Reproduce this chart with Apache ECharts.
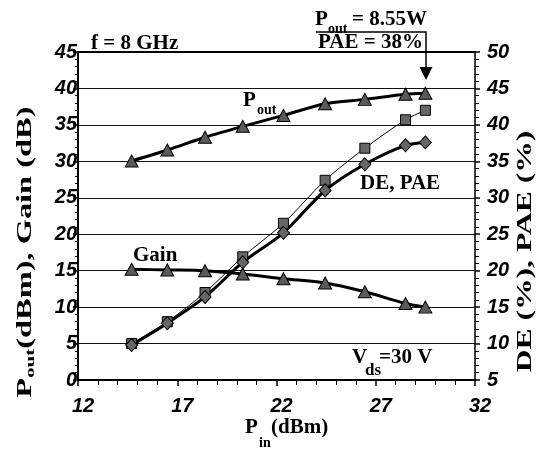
<!DOCTYPE html>
<html>
<head>
<meta charset="utf-8">
<title>Pout / Gain / DE / PAE vs Pin</title>
<script src="https://cdn.jsdelivr.net/npm/echarts@6/dist/echarts.min.js"></script>
<style>
  html, body { margin: 0; padding: 0; background: #fff; }
  .chart { width: 542px; height: 451px; }
</style>
</head>
<body>
<div class="chart"></div>
<script>
// 输入功率 Pin (dBm)
var pin = [14.7, 16.5, 18.4, 20.3, 22.35, 24.45, 26.45, 28.5, 29.5];
// 输出功率 Pout (dBm)
var pout = [30.05, 31.55, 33.3, 34.8, 36.3, 37.9, 38.5, 39.2, 39.35];
// 增益 Gain (dB)
var gain = [15.2, 15.1, 15.0, 14.55, 13.9, 13.3, 12.1, 10.5, 10.0];
// 漏极效率 DE (%)
var de = [10.0, 13.0, 17.0, 21.9, 26.5, 32.4, 36.8, 40.7, 42.0];
// 功率附加效率 PAE (%)
var pae = [9.8, 12.8, 16.4, 21.15, 25.2, 31.0, 34.6, 37.2, 37.6];

// 刻度
var xTicks = [12, 17, 22, 27, 32];
var leftTicks = [0, 5, 10, 15, 20, 25, 30, 35, 40, 45];
var rightTicks = [5, 10, 15, 20, 25, 30, 35, 40, 45, 50];

var sans = "'Liberation Sans', Arial, sans-serif";
var serif = "'Liberation Serif', 'Times New Roman', serif";

function pairs(ys) {
  return pin.map(function (x, i) { return [x, ys[i]]; });
}

// 文字小工具
function t(x, y, s, size, align) {
  align = align || 'left';
  return {
    type: 'text', x: x, y: y,
    style: {
      text: s, font: 'bold ' + size + 'px ' + serif, fill: '#000',
      align: align, verticalAlign: 'middle',
      textAlign: align, textVerticalAlign: 'middle'
    }
  };
}

var tickLabel = {
  color: '#000', fontSize: 20, fontWeight: 'bold', fontStyle: 'italic', fontFamily: sans
};

var myChart = echarts.init(document.querySelector('.chart'));

var option = {
  animation: false,
  grid: { left: 78, right: 67, top: 52, bottom: 71 },
  xAxis: [{
    type: 'value',
    min: xTicks[0], max: xTicks[xTicks.length - 1], interval: xTicks[1] - xTicks[0],
    axisLine: { lineStyle: { color: '#000', width: 2 } },
    axisTick: { inside: false, length: 6, lineStyle: { color: '#000', width: 1.5 } },
    minorTick: { show: true, splitNumber: 5, length: 5, lineStyle: { color: '#000', width: 1 } },
    axisLabel: Object.assign({ margin: 16, padding: [0, 0, 0, 10] }, tickLabel),
    splitLine: { show: false }
  }, {
    // 上边框
    type: 'value', position: 'top',
    min: xTicks[0], max: xTicks[xTicks.length - 1],
    axisLine: { show: true, lineStyle: { color: '#000', width: 2 } },
    axisTick: { show: false }, axisLabel: { show: false }, splitLine: { show: false }
  }],
  yAxis: [{
    type: 'value',
    min: leftTicks[0], max: leftTicks[leftTicks.length - 1], interval: leftTicks[1] - leftTicks[0],
    axisLine: { show: true, onZero: false, lineStyle: { color: '#000', width: 2 } },
    axisTick: { show: true, inside: false, length: 5, lineStyle: { color: '#000', width: 1.5 } },
    minorTick: { show: true, splitNumber: 5, length: 3, lineStyle: { color: '#000', width: 1 } },
    axisLabel: Object.assign({ margin: 1, padding: [8, 0, 0, 0] }, tickLabel),
    splitLine: { show: true, lineStyle: { color: '#111', width: 1 } }
  }, {
    type: 'value', position: 'right',
    min: rightTicks[0], max: rightTicks[rightTicks.length - 1], interval: rightTicks[1] - rightTicks[0],
    axisLine: { show: true, onZero: false, lineStyle: { color: '#000', width: 1.5 } },
    axisTick: { show: true, inside: false, length: 5, lineStyle: { color: '#000', width: 1.5 } },
    minorTick: { show: true, splitNumber: 5, length: 4, lineStyle: { color: '#000', width: 1 } },
    axisLabel: Object.assign({ margin: 12, padding: [8, 0, 0, 0] }, tickLabel),
    splitLine: { show: false }
  }],
  series: [
    {
      name: 'DE', type: 'line', yAxisIndex: 1, data: pairs(de), smooth: 0.3,
      symbol: 'rect', symbolSize: 10,
      lineStyle: { color: '#000', width: 1 },
      itemStyle: { color: '#666', borderColor: '#000', borderWidth: 1 }
    },
    {
      name: 'PAE', type: 'line', yAxisIndex: 1, data: pairs(pae), smooth: 0.3,
      symbol: 'diamond', symbolSize: [12, 13],
      lineStyle: { color: '#000', width: 3 },
      itemStyle: { color: '#666', borderColor: '#000', borderWidth: 1 }
    },
    {
      name: 'Pout', type: 'line', data: pairs(pout), smooth: 0.3,
      symbol: 'triangle', symbolSize: [13, 12],
      lineStyle: { color: '#000', width: 3 },
      itemStyle: { color: '#5a5a5a', borderColor: '#000', borderWidth: 1 }
    },
    {
      name: 'Gain', type: 'line', data: pairs(gain), smooth: 0.3,
      symbol: 'triangle', symbolSize: [13, 12],
      lineStyle: { color: '#000', width: 3 },
      itemStyle: { color: '#5a5a5a', borderColor: '#000', borderWidth: 1 }
    }
  ],
  graphic: [
    t(91, 44, 'f = 8 GHz', 21),
    // 右上角标注和箭头
    t(315, 20, 'P', 21), t(328, 29, 'out', 14), t(427, 20, '= 8.55W', 21, 'right'),
    t(423, 43, 'PAE = 38%', 21, 'right'),
    { type: 'polyline', shape: { points: [[316, 32], [426, 32], [426, 69]] },
      style: { stroke: '#000', lineWidth: 1.5, fill: null } },
    { type: 'polygon', shape: { points: [[419.5, 67], [432.5, 67], [426, 80]] },
      style: { fill: '#000' } },
    // 曲线标签
    t(243, 101, 'P', 21), t(257, 110, 'out', 14),
    t(133, 256, 'Gain', 21),
    t(360, 183.5, 'DE, PAE', 21),
    t(352, 358, 'V', 21), t(365, 371, 'ds', 17), t(379, 358, '=30 V', 21),
    // x 轴名称
    t(245, 428, 'P', 21), t(259, 443, 'in', 14), t(271, 428, '(dBm)', 21),
    // 左 y 轴名称
    { type: 'group', x: 26, y: 252, rotation: Math.PI / 2, scaleX: 1.62,
      children: [t(-90, 0, 'P', 20), t(-77.8, 4.5, 'out', 13), t(-59.7, 0, '(dBm), Gain (dB)', 20)] },
    // 右 y 轴名称
    { type: 'group', x: 526, y: 251.5, rotation: Math.PI / 2, scaleX: 1.58,
      children: [t(0, 0, 'DE (%), PAE (%)', 20, 'center')] }
  ]
};

myChart.setOption(option);
</script>
</body>
</html>
